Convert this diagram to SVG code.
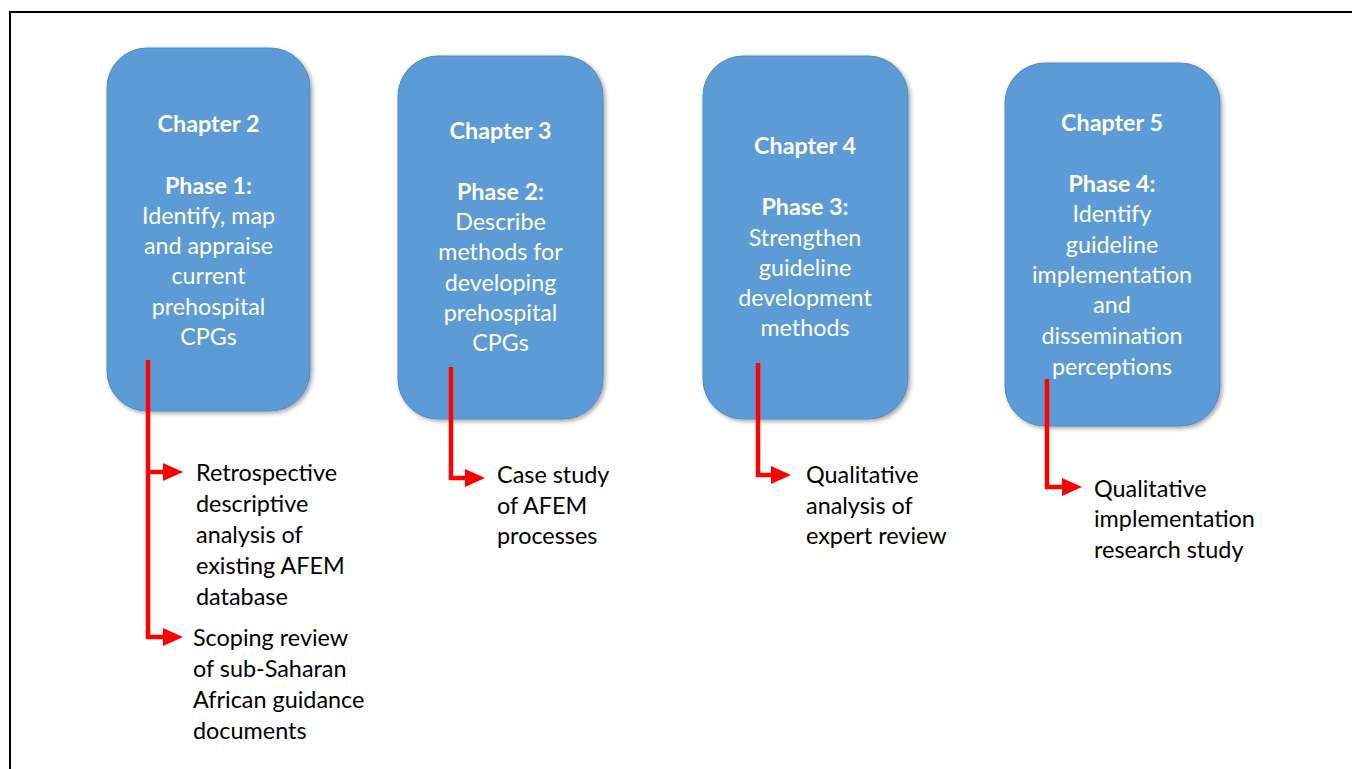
<svg xmlns="http://www.w3.org/2000/svg" width="1352" height="769" viewBox="0 0 1352 769">
  <style>
    .box { fill: #5B9BD5; stroke: #4F88C0; stroke-width: 1; filter: url(#shadow); }
    .boxtext { font-family: Lato, "Liberation Sans", sans-serif; font-size: 23.3px; fill: #FFFFFF; text-anchor: middle; }
    .bold { font-weight: bold; }
    .label { font-family: Lato, "Liberation Sans", sans-serif; font-size: 23.4px; fill: #000000; }
    .conn { fill: none; stroke: #FF0000; stroke-width: 4.5; marker-end: url(#arrow); }
    .frame { fill: none; stroke: #000000; stroke-width: 2; }
  </style>
  <defs>
    <filter id="shadow" x="-10%" y="-10%" width="125%" height="125%">
      <feDropShadow dx="2" dy="2" stdDeviation="2" flood-color="#000000" flood-opacity="0.35"/>
    </filter>
    <marker id="arrow" markerUnits="userSpaceOnUse" markerWidth="20" markerHeight="18" refX="10" refY="9" orient="auto">
      <path d="M0,0 L20,9 L0,18 Z" fill="#FF0000"/>
    </marker>
  </defs>

  <rect width="1352" height="769" fill="#FFFFFF"/>
  <!-- outer frame, open to the right and bottom -->
  <path class="frame" d="M10,769 V12 H1352"/>

  <g id="chapter2">
    <rect class="box" x="107" y="48" width="203" height="363" rx="40" ry="40"/>
    <text class="boxtext bold" x="208.5" y="132">Chapter 2</text>
    <text class="boxtext bold" x="208.5" y="194">Phase 1:</text>
    <text class="boxtext" x="208.5" y="224">Identify, map</text>
    <text class="boxtext" x="208.5" y="254">and appraise</text>
    <text class="boxtext" x="208.5" y="284">current</text>
    <text class="boxtext" x="208.5" y="315">prehospital</text>
    <text class="boxtext" x="208.5" y="345">CPGs</text>
  </g>

  <g id="chapter3">
    <rect class="box" x="398" y="56" width="205" height="363" rx="40" ry="40"/>
    <text class="boxtext bold" x="500.5" y="139">Chapter 3</text>
    <text class="boxtext bold" x="500.5" y="200">Phase 2:</text>
    <text class="boxtext" x="500.5" y="230">Describe</text>
    <text class="boxtext" x="500.5" y="260">methods for</text>
    <text class="boxtext" x="500.5" y="291">developing</text>
    <text class="boxtext" x="500.5" y="321">prehospital</text>
    <text class="boxtext" x="500.5" y="351">CPGs</text>
  </g>

  <g id="chapter4">
    <rect class="box" x="703" y="56" width="205" height="363" rx="40" ry="40"/>
    <text class="boxtext bold" x="805" y="154">Chapter 4</text>
    <text class="boxtext bold" x="805" y="215">Phase 3:</text>
    <text class="boxtext" x="805" y="246">Strengthen</text>
    <text class="boxtext" x="805" y="276">guideline</text>
    <text class="boxtext" x="805" y="306">development</text>
    <text class="boxtext" x="805" y="336">methods</text>
  </g>

  <g id="chapter5">
    <rect class="box" x="1005" y="63" width="215" height="363" rx="40" ry="40"/>
    <text class="boxtext bold" x="1112" y="131">Chapter 5</text>
    <text class="boxtext bold" x="1112" y="192">Phase 4:</text>
    <text class="boxtext" x="1112" y="222">Identify</text>
    <text class="boxtext" x="1112" y="253">guideline</text>
    <text class="boxtext" x="1112" y="283">implementation</text>
    <text class="boxtext" x="1112" y="313">and</text>
    <text class="boxtext" x="1112" y="344">dissemination</text>
    <text class="boxtext" x="1112" y="375">perceptions</text>
  </g>

  <g id="connectors">
    <path class="conn" d="M148,360 V637 H173"/>
    <path class="conn" d="M148,472 H173"/>
    <path class="conn" d="M451,367 V478 H475"/>
    <path class="conn" d="M758,363 V475 H781"/>
    <path class="conn" d="M1047,379 V487 H1072"/>
  </g>

  <g id="retrospective-analysis">
    <text class="label" x="196" y="481">Retrospective</text>
    <text class="label" x="196" y="512">descriptive</text>
    <text class="label" x="196" y="543">analysis of</text>
    <text class="label" x="196" y="574">existing AFEM</text>
    <text class="label" x="196" y="605">database</text>
  </g>

  <g id="scoping-review">
    <text class="label" x="193" y="646">Scoping review</text>
    <text class="label" x="193" y="677">of sub-Saharan</text>
    <text class="label" x="193" y="708">African guidance</text>
    <text class="label" x="193" y="739">documents</text>
  </g>

  <g id="case-study">
    <text class="label" x="497" y="483">Case study</text>
    <text class="label" x="497" y="514">of AFEM</text>
    <text class="label" x="497" y="544">processes</text>
  </g>

  <g id="expert-review">
    <text class="label" x="806" y="483">Qualitative</text>
    <text class="label" x="806" y="514">analysis of</text>
    <text class="label" x="806" y="544">expert review</text>
  </g>

  <g id="implementation-study">
    <text class="label" x="1094" y="497">Qualitative</text>
    <text class="label" x="1094" y="527">implementation</text>
    <text class="label" x="1094" y="558">research study</text>
  </g>
</svg>
